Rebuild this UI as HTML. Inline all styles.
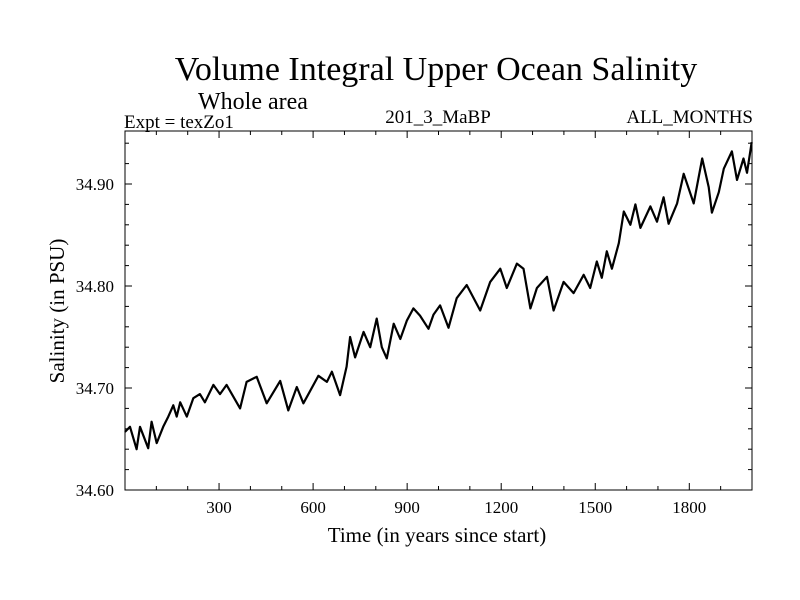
<!DOCTYPE html>
<html><head><meta charset="utf-8"><style>
body{margin:0;background:#fff;}
svg{display:block;font-family:"Liberation Serif",serif;}
</style></head><body>
<svg id="chart" width="800" height="600">
<text x="436" y="80" font-size="34" text-anchor="middle">Volume Integral Upper Ocean Salinity</text>
<text x="253" y="109" font-size="24" text-anchor="middle">Whole area</text>
<text x="124" y="128" font-size="19">Expt = texZo1</text>
<text x="438" y="123" font-size="19" text-anchor="middle">201_3_MaBP</text>
<text x="753" y="123" font-size="19" text-anchor="end">ALL_MONTHS</text>
<text x="437" y="542" font-size="21" text-anchor="middle">Time (in years since start)</text>
<text transform="translate(64,311) rotate(-90)" font-size="21" text-anchor="middle">Salinity (in PSU)</text>
<g id="axes"></g>
<path id="line" fill="none" stroke="#000" stroke-width="2.2" stroke-linejoin="round"></path>
<rect x="125" y="131" width="627" height="359" fill="none" stroke="#000" stroke-width="1"></rect>
</svg>
<script>
const years=[0,16,37,48,74,85,101,122,138,154,165,176,197,218,239,255,282,303,324,367,388,420,452,495,521,548,569,617,644,660,686,707,718,734,761,782,803,819,835,857,878,899,920,941,968,984,1005,1032,1058,1090,1133,1165,1197,1218,1250,1271,1293,1314,1346,1367,1399,1431,1463,1484,1505,1521,1537,1553,1575,1591,1612,1628,1644,1676,1697,1718,1734,1761,1782,1814,1841,1862,1872,1894,1910,1936,1952,1973,1984,1999];
const salinity=[34.657,34.662,34.640,34.662,34.641,34.667,34.646,34.662,34.672,34.683,34.672,34.686,34.672,34.690,34.694,34.686,34.703,34.694,34.703,34.680,34.706,34.711,34.685,34.707,34.678,34.701,34.685,34.712,34.706,34.716,34.693,34.721,34.750,34.730,34.755,34.740,34.768,34.740,34.729,34.763,34.748,34.766,34.778,34.771,34.758,34.772,34.781,34.759,34.788,34.801,34.776,34.804,34.817,34.798,34.822,34.817,34.778,34.798,34.809,34.776,34.804,34.793,34.811,34.798,34.824,34.808,34.834,34.817,34.842,34.873,34.860,34.880,34.857,34.878,34.863,34.887,34.861,34.881,34.910,34.881,34.925,34.897,34.872,34.892,34.915,34.932,34.904,34.925,34.911,34.941];
const xTicks=[300,600,900,1200,1500,1800];
const yTicks=[34.60,34.70,34.80,34.90];
const X0=125,X1=752,Y0=490,Y1=131;
const xs=v=>X0+(v-0)/(2000-0)*(X1-X0);
const ys=v=>Y0-(v-34.60)*1020;
const ns="http://www.w3.org/2000/svg";
const g=document.getElementById('axes');
function ln(x1,y1,x2,y2){const l=document.createElementNS(ns,'line');l.setAttribute('x1',x1);l.setAttribute('y1',y1);l.setAttribute('x2',x2);l.setAttribute('y2',y2);l.setAttribute('stroke','#000');


g.appendChild(l);}
function tx(x,y,s,a){const t=document.createElementNS(ns,'text');t.setAttribute('x',x);t.setAttribute('y',y);t.setAttribute('font-size','17');t.setAttribute('text-anchor',a);t.textContent=s;


g.appendChild(t);}
for(let v=100;v<2000;v+=100){const x=xs(v);const L=(v%300===0)?7:4;ln(x,Y0,x,Y0-L);ln(x,Y1,x,Y1+L);}
xTicks.forEach(v=>tx(xs(v),513,String(v),'middle'));
for(let i=1;i<18;i++){const v=34.60+i*0.02;const y=ys(v);const L=(i%5===0)?7:4;ln(X0,y,X0+L,y);ln(X1,y,X1-L,y);}
yTicks.forEach(v=>tx(114,ys(v)+6,v.toFixed(2),'end'));
document.getElementById('line').setAttribute('d',years.map((y,i)=>(i?'L':'M')+xs(y).toFixed(1)+','+ys(salinity[i]).toFixed(1)).join(''));
</script>
</body></html>
